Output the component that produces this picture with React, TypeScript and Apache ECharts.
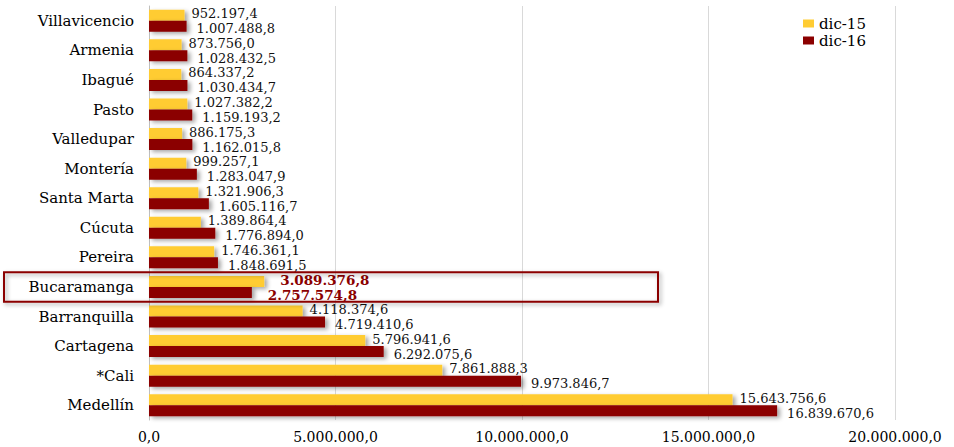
import React, { useEffect, useRef } from "react";
import * as echarts from "echarts";

const categories = [
  "Villavicencio", "Armenia", "Ibagué", "Pasto", "Valledupar", "Montería", "Santa Marta",
  "Cúcuta", "Pereira", "Bucaramanga", "Barranquilla", "Cartagena", "*Cali", "Medellín",
];
const dic15 = [
  952197.4, 873756.0, 864337.2, 1027382.2, 886175.3, 999257.1, 1321906.3,
  1389864.4, 1746361.1, 3089376.8, 4118374.6, 5796941.6, 7861888.3, 15643756.6,
];
const dic16 = [
  1007488.8, 1028432.5, 1030434.7, 1159193.2, 1162015.8, 1283047.9, 1605116.7,
  1776894.0, 1848691.5, 2757574.8, 4719410.6, 6292075.6, 9973846.7, 16839670.6,
];
const seriesNames = ["dic-15", "dic-16"];
const highlight = "Bucaramanga";

const FONT = "DejaVu Serif";
const YELLOW = "#FFCC33";
const RED = "#8B0000";

function fmt(v: number): string {
  const [i, d] = v.toFixed(1).split(".");
  return i.replace(/\B(?=(\d{3})+(?!\d))/g, ".") + "," + d;
}

function makeData(values: number[]) {
  return values.map((v, idx) =>
    categories[idx] === highlight
      ? { value: v, label: { fontWeight: "bold", color: RED, fontSize: 13.5, lineHeight: 13, distance: 16 } }
      : v
  );
}

export default function App() {
  const ref = useRef<HTMLDivElement>(null);
  useEffect(() => {
    if (!ref.current) return;
    const chart = echarts.init(ref.current, null, { renderer: "svg" });
    const shadow = {
      shadowColor: "rgba(0,0,0,0.35)",
      shadowBlur: 4,
      shadowOffsetX: 3,
      shadowOffsetY: 2,
    };
    chart.setOption({
      animation: false,
      backgroundColor: "#fff",
      grid: { left: 149, right: 59, top: 6, bottom: 27, containLabel: false },
      legend: {
        orient: "vertical",
        left: 798,
        top: 11,
        itemWidth: 11,
        itemHeight: 8,
        itemGap: 2,
        icon: "rect",
        textStyle: { fontFamily: FONT, fontSize: 15, color: "#000" },
        data: seriesNames,
      },
      xAxis: {
        type: "value",
        min: 0,
        max: 20000000,
        interval: 5000000,
        axisLine: { show: false },
        axisTick: { show: false },
        splitLine: { lineStyle: { color: "#d9d9d9" } },
        axisLabel: {
          margin: 10,
          fontFamily: FONT,
          fontSize: 14,
          color: "#000",
          formatter: (v: number) => fmt(v),
        },
      },
      yAxis: {
        type: "category",
        inverse: true,
        data: categories,
        axisLine: { show: true, lineStyle: { color: "#bfbfbf" } },
        axisTick: { show: false },
        axisLabel: { margin: 15, fontFamily: FONT, fontSize: 15, color: "#000" },
      },
      series: [
        {
          name: seriesNames[0],
          type: "bar",
          data: makeData(dic15),
          barWidth: 11,
          barGap: "0%",
          itemStyle: { color: YELLOW, ...shadow },
          label: {
            show: true,
            position: "right",
            distance: 7,
            offset: [0, -1.5],
            fontFamily: FONT,
            fontSize: 13,
            lineHeight: 13,
            color: "#111",
            formatter: (p: any) => fmt(p.value),
          },
        },
        {
          name: seriesNames[1],
          type: "bar",
          data: makeData(dic16),
          barWidth: 11,
          itemStyle: { color: RED, ...shadow },
          label: {
            show: true,
            position: "right",
            distance: 10,
            offset: [0, 2.5],
            fontFamily: FONT,
            fontSize: 13,
            lineHeight: 13,
            color: "#111",
            formatter: (p: any) => fmt(p.value),
          },
        },
      ],
    });
    const cy = chart.convertToPixel({ yAxisIndex: 0 }, highlight) as number;
    const band = (chart.getHeight() - 6 - 27) / categories.length;
    chart.setOption({
      graphic: [
        {
          type: "rect",
          shape: { x: 4, y: cy - band / 2, width: 654, height: band },
          style: {
            fill: "none",
            stroke: RED,
            lineWidth: 2,
            shadowColor: "rgba(0,0,0,0.35)",
            shadowBlur: 4,
            shadowOffsetX: 2,
            shadowOffsetY: 2,
          },
          z: 100,
        },
      ],
    });
    return () => chart.dispose();
  }, []);
  return (
    <div
      ref={ref}
      style={{ position: "fixed", left: 0, top: 0, width: 954, height: 447 }}
    />
  );
}
